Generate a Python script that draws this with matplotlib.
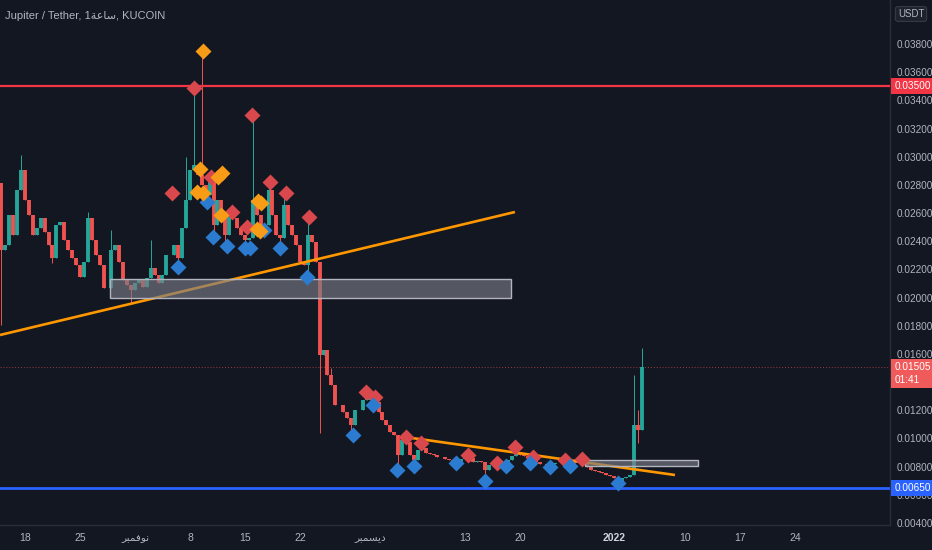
import numpy as np
import matplotlib
matplotlib.use("Agg")
import matplotlib.pyplot as plt
import matplotlib.transforms as mtransforms
from matplotlib.patches import Rectangle
from matplotlib.ticker import FixedLocator, FormatStrFormatter

plt.rcParams['font.family'] = ['Liberation Sans', 'DejaVu Sans']

# JUP/USDT, closes every 12h, day 0 = 18 Oct 2021
first_open = 0.02813
closes = [
    0.02338, 0.02373, 0.02586, 0.02444, 0.02764, 0.02906, 0.02693, 0.02586, 0.02444, 0.02494,
    0.02565, 0.02466, 0.02373, 0.02281, 0.02515, 0.02537, 0.02409, 0.02338, 0.02281, 0.02231,
    0.02146, 0.02253, 0.02565, 0.02409, 0.02302, 0.02231, 0.02068, 0.02068, 0.02338, 0.02373,
    0.02253, 0.02125, 0.02089, 0.02054, 0.02104, 0.02125, 0.02075, 0.02139, 0.02210, 0.02160,
    0.02104, 0.02160, 0.02302, 0.02302, 0.02373, 0.02281, 0.02494, 0.02693, 0.02906, 0.02941,
    0.02870, 0.02799, 0.02728, 0.02835, 0.02515, 0.02693, 0.02586, 0.02444, 0.02586, 0.02565,
    0.02494, 0.02444, 0.02409, 0.02423, 0.02693, 0.02586, 0.02515, 0.02515, 0.02764, 0.02586,
    0.02444, 0.02423, 0.02657, 0.02515, 0.02444, 0.02373, 0.02253, 0.02231, 0.02444, 0.02395,
    0.02253, 0.01593, 0.01628, 0.01451, 0.01380, 0.01238, 0.01238, 0.01188, 0.01145, 0.01096,
    0.01202, 0.01202, 0.01273, 0.01309, 0.01273, 0.01259, 0.01188, 0.01131, 0.01096, 0.01046,
    0.01025, 0.00883, 0.00989, 0.00975, 0.00883, 0.00847, 0.00918, 0.00932, 0.00897, 0.00890,
    0.00883, 0.00869, 0.00869, 0.00854, 0.00847, 0.00840, 0.00833, 0.00854, 0.00869, 0.00861,
    0.00833, 0.00840, 0.00833, 0.00776, 0.00812, 0.00812, 0.00833, 0.00833, 0.00826, 0.00847,
    0.00876, 0.00904, 0.00883, 0.00876, 0.00861, 0.00861, 0.00833, 0.00819, 0.00819, 0.00812,
    0.00819, 0.00826, 0.00826, 0.00840, 0.00833, 0.00833, 0.00826, 0.00840, 0.00833, 0.00798,
    0.00776, 0.00769, 0.00762, 0.00755, 0.00741, 0.00734, 0.00720, 0.00698, 0.00720, 0.00727,
    0.00741, 0.01096, 0.01060, 0.01505,
]
start_day = -3.0
step_day = 0.5

# wick extremes beyond the bodies
hi_idx = [0, 5, 22, 28, 38, 47, 49, 51, 64, 68, 72, 78, 84, 131, 161, 162, 163]
hi_val = [0.02813, 0.03012, 0.02608, 0.02480, 0.02409, 0.02998, 0.03488, 0.03750, 0.03296,
          0.02820, 0.02742, 0.02572, 0.01500, 0.00940, 0.01451, 0.01202, 0.01642]
lo_idx = [0, 13, 33, 45, 54, 57, 62, 71, 78, 81, 89, 101, 105, 123, 157, 162]
lo_val = [0.01806, 0.02245, 0.01969, 0.02215, 0.02430, 0.02366, 0.02352, 0.02352, 0.02146,
          0.01039, 0.01025, 0.00776, 0.00790, 0.00665, 0.00684, 0.00968]

# pivot markers
red_days = [18.71, 21.51, 23.63, 26.31, 28.30, 28.89, 31.18, 33.22, 36.15,
            43.40, 44.55, 48.45, 50.40, 56.34, 60.11, 62.36, 64.62, 68.73, 70.85]
red_prices = [0.02742, 0.03488, 0.02858, 0.02610, 0.02503, 0.03296, 0.02820, 0.02742, 0.02572,
              0.01332, 0.01292, 0.01013, 0.00970, 0.00883, 0.00828, 0.00942, 0.00871, 0.00847, 0.00852]
blue_days = [19.51, 23.12, 23.97, 25.75, 28.00, 28.64, 30.46, 32.46, 35.85,
             41.79, 44.25, 47.30, 49.51, 54.86, 58.55, 61.18, 64.27, 66.82, 69.37, 75.51]
blue_prices = [0.02215, 0.02680, 0.02432, 0.02368, 0.02350, 0.02350, 0.02480, 0.02350, 0.02148,
               0.01025, 0.01238, 0.00776, 0.00805, 0.00824, 0.00700, 0.00805, 0.00824, 0.00800,
               0.00805, 0.00686]
orange_days = [22.66, 22.27, 21.93, 22.61, 24.56, 25.07, 24.90, 29.70, 30.00, 29.57, 29.90]
orange_prices = [0.03750, 0.02911, 0.02752, 0.02745, 0.02856, 0.02884, 0.02586, 0.02688,
                 0.02670, 0.02485, 0.02470]

# drawings
level_red = 0.03500
level_blue = 0.00650
last_price = 0.01505
trend1 = ([-3.18, 62.36], [0.017344, 0.026075])
trend2 = ([48.36, 82.73], [0.010104, 0.007407])
box1 = (10.82, 61.86, 0.01997, 0.02132)
box2 = (71.27, 85.66, 0.008045, 0.008471)

tick_days = [0, 7, 14, 21, 28, 35, 44, 56, 63, 75, 84, 91, 98]
tick_labels = ['18', '25', '\ufeae\ufe92\ufee4\ufed3\ufeee\ufee7', '8', '15', '22',
               '\ufeae\ufe92\ufee4\ufeb4\ufef3\ufea9', '13', '20', '2022', '10', '17', '24']
# 0.014 sits under the last-price tag
price_ticks = [0.004, 0.006, 0.008, 0.010, 0.012, 0.016, 0.018, 0.020, 0.022,
               0.024, 0.026, 0.028, 0.030, 0.032, 0.034, 0.036, 0.038]

bg = '#131722'
txt = '#b2b5be'
up_c = '#26a69a'
dn_c = '#ef5350'

fig = plt.figure(figsize=(9.32, 5.5), dpi=100, facecolor=bg)
ax = fig.add_axes([0, 25 / 550, 890 / 932, 525 / 550], facecolor=bg)

closes = np.array(closes)
n = len(closes)
days = start_day + step_day * np.arange(n)
opens = np.concatenate([[first_open], closes[:-1]])
highs = np.maximum(opens, closes)
lows = np.minimum(opens, closes)
highs[hi_idx] = np.maximum(highs[hi_idx], hi_val)
lows[lo_idx] = np.minimum(lows[lo_idx], lo_val)
cols = [up_c if c >= o else dn_c for o, c in zip(opens, closes)]

ax.vlines(days, lows, highs, colors=cols, lw=0.7, zorder=2)
ax.vlines(days, np.minimum(opens, closes), np.maximum(opens, closes), colors=cols, lw=2.8,
          zorder=2, capstyle='butt')

# levels and trend lines
ax.axhline(level_red, color='#f23645', lw=1.6, zorder=3)
ax.axhline(level_blue, color='#2962ff', lw=2.0, zorder=3)
ax.axhline(last_price, color='#ef5350', lw=0.7, ls=(0, (1, 2)), alpha=0.6, zorder=1)
ax.plot(trend1[0], trend1[1], color='#ff9800', lw=1.9, zorder=3, solid_capstyle='butt')
ax.plot(trend2[0], trend2[1], color='#ff9800', lw=1.9, zorder=3, solid_capstyle='butt')

for x0, x1, y0, y1 in [box1, box2]:
    ax.add_patch(Rectangle((x0, y0), x1 - x0, y1 - y0, facecolor='#787b86', alpha=0.65,
                           edgecolor='none', zorder=4))
    ax.add_patch(Rectangle((x0, y0), x1 - x0, y1 - y0, facecolor='none',
                           edgecolor='#b2b5be', lw=1.0, zorder=4))

# pivot diamonds
ax.plot(red_days, red_prices, 'D', color='#d9484c', ms=8.5, mec='none', zorder=5)
ax.plot(blue_days, blue_prices, 'D', color='#2b7bd0', ms=8.5, mec='none', zorder=5)
ax.plot(orange_days, orange_prices, 'D', color='#f89c18', ms=8.5, mec='none', zorder=5)

ax.set_xlim(-3.18, 110.1)
ax.set_ylim(0.003858, 0.041123)

ax.yaxis.tick_right()
ax.yaxis.set_major_locator(FixedLocator(price_ticks))
ax.yaxis.set_major_formatter(FormatStrFormatter('%.5f'))
ax.tick_params(axis='y', length=0, pad=5, labelsize=7.2, labelcolor=txt)
ax.set_xticks(tick_days)
ax.set_xticklabels(tick_labels)
ax.tick_params(axis='x', length=0, pad=6, labelsize=7.5, labelcolor=txt)
for lab in ax.get_xticklabels():
    if lab.get_text() == '2022':
        lab.set_color('#d1d4dc')
        lab.set_fontweight('bold')

for side in ['top', 'left']:
    ax.spines[side].set_visible(False)
for side in ['right', 'bottom']:
    ax.spines[side].set_color('#2a2e39')
    ax.spines[side].set_linewidth(1.0)

# price tags on the scale
tr = mtransforms.blended_transform_factory(ax.transAxes, ax.transData)
tag = dict(transform=tr, ha='left', va='center', fontsize=7.2, color='white',
           clip_on=False, zorder=10)
ax.text(1.005, level_red, '0.03500', **tag,
        bbox=dict(boxstyle='square,pad=0.3', fc='#f23645', ec='none'))
ax.text(1.005, level_blue, '0.00650', **tag,
        bbox=dict(boxstyle='square,pad=0.3', fc='#2962ff', ec='none'))
ax.text(1.005, last_price - 0.00045, '0.01505\n01:41', **tag, linespacing=1.35,
        bbox=dict(boxstyle='square,pad=0.3', fc='#f05a5a', ec='none'))

fig.text(911 / 932, 1 - 14 / 550, 'USDT', ha='center', va='center', fontsize=7, color=txt,
         bbox=dict(boxstyle='round,pad=0.25', fc='#1e222d', ec='#363a45', lw=0.8))

fig.text(5 / 932, 1 - 16 / 550,
         'Jupiter / Tether, 1\ufe94\ufecb\ufe8e\ufeb3, KUCOIN',
         ha='left', va='center', fontsize=8, color=txt)

fig.savefig('out.png', dpi=100, facecolor=bg)
